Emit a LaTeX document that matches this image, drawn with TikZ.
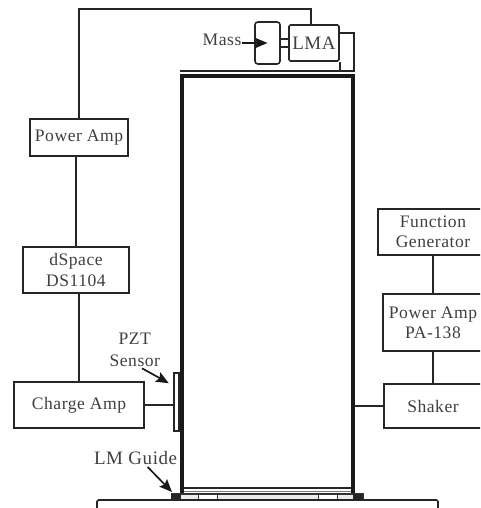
\documentclass[tikz,border=0pt]{standalone}
\usepackage{fontspec}
\setmainfont[LetterSpace=3]{Liberation Serif}
\usetikzlibrary{positioning, arrows.meta, calc}

\begin{document}
\begin{tikzpicture}[
    >={Stealth[length=9pt, width=7.5pt, inset=1.5pt]},
    txt/.style={align=center, text=black!75, font=\fontsize{12.5}{14.5}\selectfont, inner sep=0pt},
    netbox/.style={draw=black!85, rectangle, line width=1.1pt, align=center, fill=white, text=black!75, font=\fontsize{12.5}{14.5}\selectfont, inner sep=0pt},
    wire/.style={draw=black!85, line width=1.1pt},
    framebar/.style={draw=black!90, line width=2.2pt},
    thinbar/.style={draw=black!80, line width=0.8pt},
    callout/.style={->, black!90, line width=1.2pt}
]
\useasboundingbox (0,0) rectangle (12,12.7);
\clip (0,0) rectangle (12,12.7);

% ==========================================
% Frame and base
% ==========================================
\node[framebar, rectangle, minimum width=4.275cm, minimum height=10.525cm, inner sep=0pt] (frame) at (6.6875, 5.5375) {};
\coordinate (top_l) at (4.5, 10.925);
\coordinate (top_r) at (8.875, 10.925);
\draw[wire] (top_l) -- (top_r);
\coordinate (plate_l) at (4.6, 0.5);
\coordinate (plate_r) at (8.78, 0.5);
\draw[wire, line width=1.3pt] (plate_l) -- (plate_r);
\draw[thinbar, black!50] (plate_l |- 0,0.41) -- (plate_r |- 0,0.41);

% rail and carriages
\node[thinbar, rectangle, minimum width=4.775cm, minimum height=0.15cm, inner sep=0pt, fill=black!8] (rail) at (6.6875, 0.275) {};
\node[thinbar, rectangle, minimum width=0.475cm, minimum height=0.15cm, inner sep=0pt, fill=white] (carriage_l) at (5.19, 0.275) {};
\node[thinbar, rectangle, minimum width=0.475cm, minimum height=0.15cm, inner sep=0pt, fill=white] (carriage_r) at (8.2, 0.275) {};
\node[fill=black!85, rectangle, minimum width=0.25cm, minimum height=0.16cm, inner sep=0pt] (block_l) at (4.4, 0.275) {};
\node[fill=black!85, rectangle, minimum width=0.25cm, minimum height=0.16cm, inner sep=0pt] (block_r) at (8.95, 0.275) {};
\coordinate (base_l) at (2.425, -0.2);
\coordinate (base_r) at (10.95, -0.2);
\draw[wire, rounded corners=1pt] (base_l) |- (10.95, 0.2) -- (base_r);

% ==========================================
% Left chain
% ==========================================
\node[netbox, minimum width=2.45cm, minimum height=0.925cm] (amp_l) at (1.975, 9.2625) {Power Amp};
\node[netbox, minimum width=2.65cm, minimum height=1.15cm] (dspace) at (1.9, 5.95) {dSpace\\DS1104};
\node[netbox, minimum width=3.25cm, minimum height=1.15cm] (charge) at (1.975, 2.575) {Charge Amp};
\node[draw=black!85, rectangle, line width=0.9pt, minimum width=0.125cm, minimum height=1.45cm, inner sep=0pt, fill=white] (pzt) at (4.41, 2.65) {};
\draw[wire] (charge.north) -- (charge.north |- dspace.south);
\draw[wire] (dspace.north) -- (dspace.north |- amp_l.south);
\draw[wire] (charge.east) -- (charge.east -| pzt.west);

% ==========================================
% LMA and mass
% ==========================================
\node[netbox, minimum width=1.25cm, minimum height=0.9cm, rounded corners=1pt, font=\fontsize{13.5}{15}\selectfont] (lma) at (7.85, 11.625) {LMA};
\node[netbox, minimum width=0.625cm, minimum height=1.05cm, rounded corners=2pt] (mass) at (6.6875, 11.625) {};
\node[txt] (mass_txt) at (5.55, 11.7) {Mass};
\coordinate (wire_top) at (7.775, 12.475);
\draw[wire] (amp_l.north) |- (wire_top) -- (wire_top |- lma.north);
\draw[wire] ($(mass.east)+(0,0.1)$) -- ($(lma.west)+(0,0.1)$);
\draw[wire] ($(mass.east)+(0,-0.1)$) -- ($(lma.west)+(0,-0.1)$);
\draw[wire] (lma.south east) -- (lma.south east |- top_r);
\coordinate (lma_out) at (8.85, 11.875);
\draw[wire] (lma_out -| lma.east) -- (lma_out) -- (lma_out |- top_r);
\draw[callout] (mass_txt.east |- mass) -- (mass.center);

% ==========================================
% Right chain
% ==========================================
\node[netbox, minimum width=2.75cm, minimum height=1.15cm] (func) at (10.825, 6.9) {Function\\Generator};
\node[netbox, minimum width=2.5cm, minimum height=1.425cm] (amp_r) at (10.825, 4.6375) {Power Amp\\PA-138};
\node[netbox, minimum width=2.45cm, minimum height=1.1cm] (shaker) at (10.825, 2.55) {Shaker};
\draw[wire] (func.south) -- (amp_r.north);
\draw[wire] (amp_r.south) -- (shaker.north);
\draw[wire, line width=1.4pt] (frame.east |- shaker.west) -- (shaker.west);

% ==========================================
% Callouts
% ==========================================
\node[txt, font=\fontsize{12.5}{15.6}\selectfont] (pzt_txt) at (3.37, 3.95) {PZT\\Sensor};
\coordinate (pzt_tip) at (4.22, 3.12);
\draw[callout] ($(pzt_txt.south)+(0.18,-0.03)$) -- (pzt_tip);
\node[txt, font=\fontsize{13.5}{15.6}\selectfont] (guide_txt) at (3.39, 1.25) {LM Guide};
\coordinate (guide_tip) at (4.3, 0.4);
\draw[callout] ($(guide_txt.south)+(0.3,-0.05)$) -- (guide_tip);

\end{tikzpicture}
\end{document}
